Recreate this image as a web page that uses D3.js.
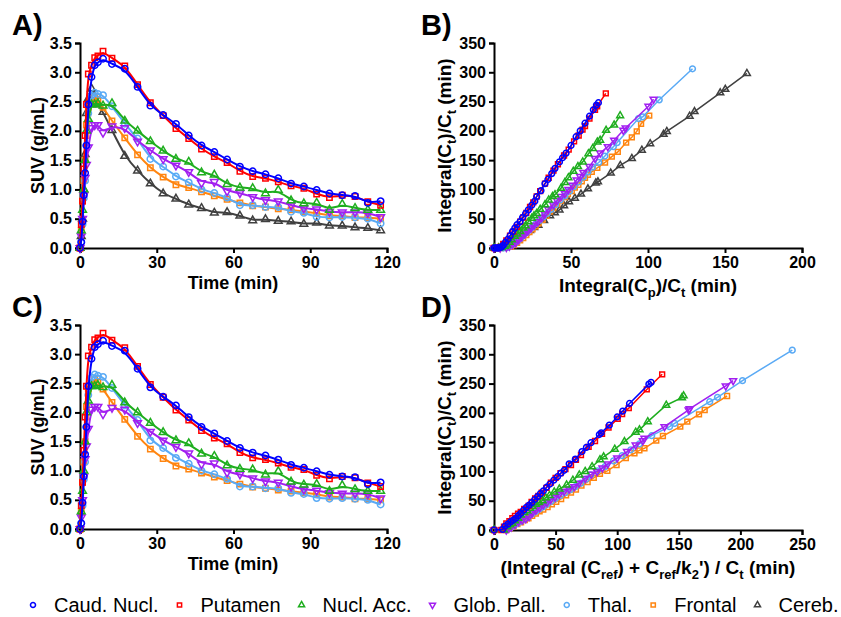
<!DOCTYPE html>
<html>
<head>
<meta charset="utf-8">
<script src="https://cdn.jsdelivr.net/npm/d3@7"></script>
<style>
  body { margin: 0; background: #fff; }
  svg text { font-family: "Liberation Sans", Arial, sans-serif; }
</style>
</head>
<body>
<div id="chart"></div>
<script>
var width = 841;
var height = 617;

// Regions, colours and marker shapes
var regions = ["Caud. Nucl.", "Putamen", "Nucl. Acc.", "Glob. Pall.", "Thal.", "Frontal", "Cereb."];
var colors = ["#0000ff", "#ff0000", "#1fae1f", "#a21ff0", "#5aaaf5", "#ff8510", "#404040"];
var shapes = ["circle", "square", "triangle", "down", "circle", "square", "triangle"];

// Frame mid times (min)
var times = [0, 0.5, 1, 1.5, 2, 2.5, 3.25, 4.5, 5.75, 7, 9, 12.5, 17.5, 22.5, 27.5, 32.5, 37.5, 42.5, 47.5, 52.5,
  57.5, 62.5, 67.5, 72.5, 77.5, 82.5, 87.5, 92.5, 97.5, 102.5, 107.5, 112.5, 117.5];

// SUV (g/mL) time-activity curves
var suvCaud = [0, 0.1, 0.45, 0.9, 1.28, 1.75, 2.45, 2.92, 3.12, 3.17, 3.23, 3.14, 3.06, 2.75, 2.43, 2.27, 2.12, 1.92, 1.75, 1.64, 1.51, 1.39, 1.31, 1.26, 1.19, 1.10, 1.05, 0.99, 0.93, 0.90, 0.89, 0.77, 0.80];
var suvPut = [0, 0.4, 0.8, 1.35, 1.92, 2.45, 2.97, 3.12, 3.25, 3.28, 3.36, 3.24, 3.11, 2.79, 2.48, 2.26, 2.04, 1.87, 1.69, 1.56, 1.46, 1.31, 1.22, 1.19, 1.13, 1.06, 1.02, 0.92, 0.86, 0.90, 0.88, 0.79, 0.73];
var suvAcc = [0, 0.3, 0.65, 1.0, 1.5, 2.0, 2.2, 2.45, 2.45, 2.47, 2.43, 2.47, 2.17, 2.0, 1.82, 1.66, 1.52, 1.47, 1.29, 1.25, 1.09, 1.03, 1.02, 0.93, 0.99, 0.81, 0.76, 0.77, 0.65, 0.75, 0.68, 0.65, 0.65];
var suvPall = [0, 0.2, 0.5, 0.9, 1.2, 1.42, 1.72, 2.05, 2.1, 2.1, 1.97, 2.08, 2.05, 1.82, 1.67, 1.52, 1.41, 1.30, 1.11, 1.13, 0.97, 0.94, 0.87, 0.82, 0.80, 0.73, 0.68, 0.66, 0.62, 0.61, 0.61, 0.60, 0.53];
var suvThal = [0, 0.1, 0.4, 0.85, 1.15, 1.75, 2.3, 2.6, 2.65, 2.63, 2.61, 2.42, 2.12, 1.87, 1.52, 1.39, 1.22, 1.12, 1.0, 0.94, 0.86, 0.73, 0.73, 0.70, 0.70, 0.62, 0.60, 0.53, 0.52, 0.53, 0.52, 0.50, 0.42];
var suvFront = [0, 0.3, 0.8, 1.15, 1.5, 2.1, 2.4, 2.5, 2.57, 2.52, 2.4, 2.17, 1.88, 1.59, 1.37, 1.21, 1.08, 1.03, 0.96, 0.89, 0.83, 0.77, 0.72, 0.70, 0.67, 0.65, 0.62, 0.60, 0.55, 0.55, 0.52, 0.52, 0.50];
var suvCereb = [0, 0.2, 0.5, 1.0, 1.6, 2.3, 2.55, 2.72, 2.6, 2.45, 2.32, 2.01, 1.57, 1.32, 1.10, 0.93, 0.84, 0.74, 0.68, 0.60, 0.61, 0.55, 0.47, 0.49, 0.46, 0.45, 0.41, 0.43, 0.38, 0.38, 0.35, 0.34, 0.30];

// Panel B: Logan plot, x = Integral(Cp)/Ct, y = Integral(Ct)/Ct
var bCaudX = [0, 1, 2, 3, 4, 5, 6.1, 7.5, 9, 10.5, 12, 13.5, 15, 16.9, 18.5, 20.5, 22.3, 24.5, 26.5, 27.7, 30.5, 33.1, 35, 37.5, 39.6, 42.5, 44.5, 46.8, 50, 53.3, 56, 59.1, 62, 64.5, 66.5, 67.8];
var bCaudY = [0, 0, 0, 0, 1, 2, 5, 10, 15, 21, 28, 34, 40, 45, 52, 59, 65, 73, 80, 87.6, 98, 110, 117, 127, 136, 147, 154, 162, 175, 190, 200, 213, 225, 236, 244, 248];
var bPutX = [0, 2, 4, 6, 8, 10.4, 12.5, 14.7, 17, 19, 21, 23.4, 25.5, 27.7, 30, 33.1, 35.5, 38.6, 41.5, 45.5, 48.5, 52, 55, 57.5, 59.1, 62, 65.6, 67, 72.6];
var bPutY = [0, 0, 2, 7, 13, 21, 28, 36, 45, 52, 60, 70, 78, 88, 97, 110, 120, 132, 143, 158, 168, 182, 192, 202, 208, 221, 236, 242, 264];
var bAccX = [0, 3, 5, 7, 8.3, 10, 11.5, 13.5, 15, 17, 19, 20.5, 22.3, 24.5, 26, 27.7, 30, 33.1, 35.5, 38, 39.6, 43.5, 46, 48.3, 51.5, 54.5, 57.6, 61.3, 64.1, 67.1, 68.9, 72.8, 78, 81.9];
var bAccY = [0, 0, 1, 3, 5, 10, 14, 20, 24, 28, 34, 38, 45, 51, 55, 59, 66, 74, 82, 88, 91, 102, 112, 120, 131, 139, 147, 161, 170, 181, 184, 201, 210, 226];
var bPallX = [0, 4, 8, 10, 12, 14, 16, 18, 20, 22, 24, 26, 28.5, 31, 33, 35.3, 38.5, 41, 43.5, 46, 48.3, 51, 53.7, 56, 58, 62, 65.6, 69, 73.9, 78, 84, 85.5, 100.3, 103.6];
var bPallY = [0, 0, 1, 3, 6, 9, 14, 19, 24, 29, 34, 39, 45, 52, 58, 66, 74, 81, 88, 93, 100, 107, 116, 122, 129, 139, 153, 162, 173, 184, 201, 205, 242, 254];
var bThalX = [0, 3, 6, 9, 11, 13, 15, 17, 19, 21, 23, 25, 27, 29.5, 32, 34.5, 37, 40, 43, 46, 49, 52, 55, 58, 61, 64, 68, 72, 77.5, 80, 93.8, 96.6, 107.3, 128.9];
var bThalY = [0, 0, 0, 1, 4, 7, 11, 16, 21, 26, 31, 36, 41, 47, 53, 59, 66, 74, 82, 89, 97, 105, 113, 121, 130, 138, 146, 157, 173, 180, 221, 224, 253, 306];
var bFrontX = [0, 4, 8, 11, 13, 15, 17, 19, 21, 23, 25, 27, 29, 31.5, 34, 36.4, 38.5, 41.1, 43.5, 46.1, 48, 50.5, 52.5, 54.8, 57, 59.1, 61, 63.5, 67.1, 72.1, 76.5, 80.4, 85.8, 89.5, 92.7, 95.5, 100.8];
var bFrontY = [0, 0, 1, 2, 5, 9, 13, 17, 22, 27, 32, 37, 42, 48, 55, 62, 68, 75, 81, 87, 92, 97, 103, 108, 114, 120, 125, 130, 137, 146, 156, 164, 180, 189, 199, 212, 226];
var bCerebX = [0, 3, 6, 8.3, 10.5, 12.6, 15, 18, 20.5, 23.4, 26, 28.8, 32.5, 36.4, 39.5, 42.5, 45.5, 48.7, 52.5, 56.5, 61, 66.1, 67.5, 75.8, 82, 89.5, 96, 101.4, 110.1, 112.2, 127, 130.2, 146.9, 150.2, 164.2];
var bCerebY = [0, 0, 0, 4, 8, 13, 17, 22, 26, 30, 35, 39, 47, 55, 60, 65, 72, 79, 85, 92, 101, 111, 113, 128, 141, 153, 167, 178, 194, 199, 225, 233, 265, 271, 298];

// Panel D: reference Logan plot, x = (Integral(Cref) + Cref/k2')/Ct
var dCaudX = [0, 7, 9, 11.3, 13.6, 15.7, 17.7, 19.7, 21.7, 24, 26.3, 28.5, 30.7, 33, 35.3, 37.7, 40.1, 42.7, 45.4, 48.5, 51.5, 54.3, 57, 61, 66, 71.4, 75, 78.7, 85.5, 87, 93.6, 100, 104.5, 110, 125.7, 127.5];
var dCaudY = [0, 1, 6.8, 10, 14.2, 17, 20, 24.5, 28.5, 33.5, 38.7, 42.5, 46.6, 52, 57, 62, 67, 73, 78.5, 85, 91, 97, 102, 113, 121, 134, 141, 149, 163, 166, 179, 193, 203, 216, 249, 252];
var dPutX = [0, 6, 8.1, 10, 12.5, 14.9, 17, 19.5, 21.7, 24.5, 28, 30.5, 33.4, 36, 38.8, 42.5, 46.2, 50, 54, 58, 62.5, 66.5, 70.6, 76.8, 82, 87.7, 93, 100.4, 104, 109.4, 124, 136.5];
var dPutY = [0, 0, 5.7, 11.4, 15, 20, 24, 28, 31, 36, 41, 48, 54, 58, 63.7, 72, 81, 89, 97, 104, 111, 120, 128, 142, 152, 164, 175, 190, 198, 208, 240, 265.8];
var dAccX = [0, 8, 10.8, 13, 14.9, 17, 19.5, 21.7, 24.5, 27, 29, 31.2, 34, 36.5, 39.3, 42, 45, 48.9, 53, 58.9, 64, 69.2, 74, 79.6, 86, 89, 98, 105.9, 115, 118.1, 124.8, 139.8, 152.5, 153.9];
var dAccY = [0, 0, 5.7, 9, 11.4, 16, 20, 25.6, 30, 33, 37, 40, 44, 47, 50, 55, 59, 65, 70, 77, 85, 94, 100, 108, 120, 125, 138, 151, 167, 171, 185, 213, 226, 229];
var dPallX = [0, 10, 12, 14, 17, 20, 23, 25.8, 28.5, 31, 34, 37, 40, 43, 46, 49.5, 53, 57, 61, 65.1, 69, 74, 79, 83.6, 88, 92.3, 100, 108, 115, 120.8, 122.1, 138.4, 158, 158.8, 188.1, 194.1];
var dPallY = [0, 0, 3, 5, 9, 14, 17, 19, 23, 29, 34, 38, 43, 47, 52, 56, 61, 66, 70, 74, 80, 88, 95, 99.5, 106, 112.7, 123, 134, 145, 152.5, 156.6, 176.4, 205, 207, 246, 255];
var dThalX = [0, 10, 13, 16, 19, 22, 25, 28, 31, 34, 37, 40, 43, 46.5, 50, 54, 58, 62, 66, 70.5, 75, 78.7, 84, 90, 97, 104, 111, 118, 128, 142.5, 146.6, 175.1, 181.4, 201.7, 242.1];
var dThalY = [0, 0, 3, 7, 11, 15, 19, 23, 28, 32, 36, 40, 44, 49, 54, 59, 64, 69, 74, 80, 87, 94, 101, 108, 118, 127, 137, 147, 161, 176.4, 182, 219, 226.6, 255, 307];
var dFrontX = [0, 10, 13, 16, 19, 22, 25, 28, 31, 34, 37, 40, 43.5, 47, 50.5, 54.5, 58.5, 62.5, 66.5, 71, 76, 81, 86, 92, 99.5, 107, 114, 118, 122.1, 131.7, 137.1, 151.2, 156.9, 166.4, 171, 189.2];
var dFrontY = [0, 0, 3, 6, 10, 13, 17, 20, 24, 28, 32, 35, 39, 44, 48, 53, 59, 64, 69, 76, 82, 89, 96, 101, 111, 123, 131, 136, 139.5, 152.5, 160.5, 176.4, 185, 197.5, 204.9, 228.8];

// Axis ticks
var suvTicks = [0, 0.5, 1, 1.5, 2, 2.5, 3, 3.5];
var timeTicks = [0, 30, 60, 90, 120];
var loganYTicks = [0, 50, 100, 150, 200, 250, 300, 350];
var bXTicks = [0, 50, 100, 150, 200];
var dXTicks = [0, 50, 100, 150, 200, 250];

var suvSeries = [suvCaud, suvPut, suvAcc, suvPall, suvThal, suvFront, suvCereb];
var bSeries = [[bCaudX, bCaudY], [bPutX, bPutY], [bAccX, bAccY], [bPallX, bPallY], [bThalX, bThalY], [bFrontX, bFrontY], [bCerebX, bCerebY]];
var dSeries = [[dCaudX, dCaudY], [dPutX, dPutY], [dAccX, dAccY], [dPallX, dPallY], [dThalX, dThalY], [dFrontX, dFrontY]];

var svg = d3.select("#chart")
  .append("svg")
  .attr("width", width)
  .attr("height", height);

// Marker path generator for each shape
function markerPath(shape, size) {
  if (shape === "circle") return d3.symbol(d3.symbolCircle, size)();
  if (shape === "square") return d3.symbol(d3.symbolSquare, size * 0.9)();
  return d3.symbol(d3.symbolTriangle, size * 0.8)();
}

function drawMarkers(g, pts, i, size) {
  g.selectAll(null)
    .data(pts)
    .enter().append("path")
    .attr("d", markerPath(shapes[i], size))
    .attr("transform", function (d) {
      return "translate(" + d[0] + "," + d[1] + ")" + (shapes[i] === "down" ? " rotate(180)" : "");
    })
    .attr("fill", "none")
    .attr("stroke", colors[i])
    .attr("stroke-width", 1.5);
}

// Text with subscripts: parts = [[text, isSub], ...]
function richText(t, parts) {
  parts.forEach(function (p, k) {
    var prevSub = k > 0 && parts[k - 1][1];
    var ts = t.append("tspan").text(p[0]);
    if (p[1]) ts.attr("font-size", "13px").attr("dy", 5);
    else if (prevSub) ts.attr("dy", -5);
  });
}

// Axes for one panel
function drawAxes(x, y, xTicks, yTicks, yFmt) {
  var xa = svg.append("g")
    .attr("transform", "translate(0," + y.range()[0] + ")")
    .call(d3.axisBottom(x).tickValues(xTicks).tickSizeOuter(0).tickSize(5).tickPadding(4));
  var ya = svg.append("g")
    .attr("transform", "translate(" + x.range()[0] + ",0)")
    .call(d3.axisLeft(y).tickValues(yTicks).tickFormat(yFmt).tickSizeOuter(0).tickSize(5).tickPadding(3));
  [xa, ya].forEach(function (a) {
    a.select(".domain").attr("stroke", "#000").attr("stroke-width", 2);
    a.selectAll(".tick line").attr("stroke", "#000").attr("stroke-width", 2);
    a.selectAll(".tick text")
      .attr("fill", "#000")
      .style("font-size", "16px")
      .style("font-weight", "bold");
  });
}

function panelLabel(txt, x, y) {
  svg.append("text")
    .attr("x", x).attr("y", y)
    .style("font-size", "29px")
    .style("font-weight", "bold")
    .text(txt);
}

// ---------- Panels A and C: time-activity curves ----------
function drawTac(top, bottom, label, nRegions) {
  var x = d3.scaleLinear().domain([0, 120]).range([80, 387]);
  var y = d3.scaleLinear().domain([0, 3.5]).range([bottom, top]);
  drawAxes(x, y, timeTicks, suvTicks, d3.format(".1f"));

  var line = d3.line()
    .x(function (d, k) { return x(times[k]); })
    .y(function (d) { return y(d); })
    .curve(d3.curveBasis);

  for (var i = nRegions - 1; i >= 0; i--) {
    var g = svg.append("g");
    g.append("path")
      .attr("d", line(suvSeries[i]))
      .attr("fill", "none")
      .attr("stroke", colors[i])
      .attr("stroke-width", 2);
    drawMarkers(g, suvSeries[i].map(function (d, k) { return [x(times[k]), y(d)]; }), i, 32);
  }

  panelLabel(label, 12, top - 8);

  svg.append("text")
    .attr("transform", "translate(44," + (top + bottom) / 2 + ") rotate(-90)")
    .attr("text-anchor", "middle")
    .style("font-size", "18px")
    .style("font-weight", "bold")
    .text("SUV (g/mL)");

  svg.append("text")
    .attr("x", 233).attr("y", bottom + 41)
    .attr("text-anchor", "middle")
    .style("font-size", "18px")
    .style("font-weight", "bold")
    .text("Time (min)");
}

// ---------- Panels B and D: Logan plots ----------
function drawLogan(top, bottom, label, series, xMax, xTicks, xTitle) {
  var x = d3.scaleLinear().domain([0, xMax]).range([494, 802]);
  var y = d3.scaleLinear().domain([0, 350]).range([bottom, top]);
  drawAxes(x, y, xTicks, loganYTicks, d3.format("d"));

  for (var i = series.length - 1; i >= 0; i--) {
    var xs = series[i][0], ys = series[i][1];
    var pts = xs.map(function (v, k) { return [x(v), y(ys[k])]; });
    var g = svg.append("g");
    g.append("path")
      .attr("d", d3.line()(pts))
      .attr("fill", "none")
      .attr("stroke", colors[i])
      .attr("stroke-width", 1.5);
    drawMarkers(g, pts, i, 26);
  }

  panelLabel(label, 421, top - 8);

  var yt = svg.append("text")
    .attr("transform", "translate(451," + (top + bottom) / 2 + ") rotate(-90)")
    .attr("text-anchor", "middle")
    .style("font-size", "19px")
    .style("font-weight", "bold");
  richText(yt, [["Integral(C", false], ["t", true], [")/C", false], ["t", true], [" (min)", false]]);

  var xt = svg.append("text")
    .attr("x", 648).attr("y", bottom + 44)
    .attr("text-anchor", "middle")
    .style("font-size", "19px")
    .style("font-weight", "bold");
  richText(xt, xTitle);
}

drawTac(43, 248, "A)", 7);
drawLogan(43, 248, "B)", bSeries, 200, bXTicks,
  [["Integral(C", false], ["p", true], [")/C", false], ["t", true], [" (min)", false]]);
drawTac(325, 529, "C)", 6);
drawLogan(325, 530, "D)", dSeries, 250, dXTicks,
  [["(Integral (C", false], ["ref", true], [") + C", false], ["ref", true], ["/k", false], ["2", true],
   ["') / C", false], ["t", true], [" (min)", false]]);

// ---------- Legend ----------
var legend = svg.append("g").attr("transform", "translate(0,605)");
var lx = 33;
regions.forEach(function (name, i) {
  legend.append("path")
    .attr("d", markerPath(shapes[i], 20))
    .attr("transform", "translate(" + lx + ",0)" + (shapes[i] === "down" ? " rotate(180)" : ""))
    .attr("fill", "none")
    .attr("stroke", colors[i])
    .attr("stroke-width", 1.5);
  var t = legend.append("text")
    .attr("x", lx + 21)
    .attr("y", 7)
    .style("font-size", "20px")
    .text(name);
  lx += 21 + t.node().getComputedTextLength() + 21;
});
</script>
</body>
</html>
